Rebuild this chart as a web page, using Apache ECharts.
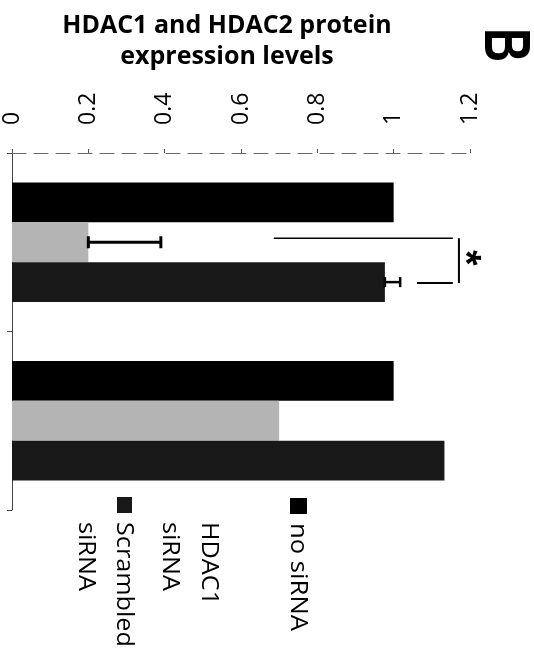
<!DOCTYPE html>
<html>
<head>
<meta charset="utf-8">
<script src="https://cdn.jsdelivr.net/npm/echarts@6/dist/echarts.min.js"></script>
<style>html,body{margin:0;padding:0;background:#fff;}#chart{width:534px;height:659px;}</style>
</head>
<body>
<div id="chart"></div>
<script>
const categories = ['HDAC1', 'HDAC2'];
const seriesNames = ['no siRNA', 'HDAC1 siRNA', 'Scrambled siRNA'];
const noSiRNA = [1.0, 1.0];
const hdac1SiRNA = [0.20, 0.70];
const scrambledSiRNA = [0.977, 1.133];
const hdac1Err = [0.19, 0];
const scrambledErr = [0.04, 0];
const tickLabels = ['0', '0.2', '0.4', '0.6', '0.8', '1', '1.2'];
const titleText = 'HDAC1 and HDAC2 protein\nexpression levels';
const panelLabel = 'B';

const colors = ['#000000', '#b4b4b4', '#181818'];
const GAP = 0.33;

const errData = [];
for (let i = 0; i < categories.length; i++) {
  if (hdac1Err[i] > 0) errData.push([i, hdac1SiRNA[i], hdac1Err[i], 1]);
  if (scrambledErr[i] > 0) errData.push([i, scrambledSiRNA[i], scrambledErr[i], 2]);
}

const chart = echarts.init(document.getElementById('chart'), null, {renderer: 'canvas'});

function barOffset(api, k) {
  const band = api.size([0, 1])[1];
  const bw = band * (1 - GAP) / 3;
  return (k - 1) * bw;
}

const option = {
  animation: false,
  backgroundColor: '#ffffff',
  title: {
    text: titleText,
    left: 222,
    top: 5,
    textAlign: 'center',
    textStyle: {fontFamily: 'Open Sans', fontWeight: 'bold', fontSize: 25, lineHeight: 31, color: '#000'}
  },
  grid: {left: 12, right: 64, top: 153, bottom: 149, containLabel: false},
  xAxis: {
    type: 'value', position: 'top', min: 0, max: 1.2, interval: 0.2,
    splitLine: {show: false},
    axisLine: {show: true, lineStyle: {color: '#666', width: 1, type: [14, 8]}},
    axisTick: {show: true, length: 4, lineStyle: {color: '#555'}},
    axisLabel: {
      rotate: -90, margin: 28, color: '#000', fontFamily: 'Open Sans', fontSize: 23,
      formatter: (v) => tickLabels[Math.round(v / 0.2)]
    }
  },
  yAxis: {
    type: 'category', data: categories, inverse: true,
    axisLine: {show: true, lineStyle: {color: '#444', width: 1}},
    axisTick: {show: true, length: 5, lineStyle: {color: '#444'}},
    axisLabel: {show: false}
  },
  series: [
    {name: seriesNames[0], type: 'bar', data: noSiRNA, barGap: '0%', barCategoryGap: '33%', itemStyle: {color: colors[0]}},
    {name: seriesNames[1], type: 'bar', data: hdac1SiRNA, barGap: '0%', barCategoryGap: '33%', itemStyle: {color: colors[1]}},
    {name: seriesNames[2], type: 'bar', data: scrambledSiRNA, barGap: '0%', barCategoryGap: '33%', itemStyle: {color: colors[2]}},
    {
      type: 'custom', name: 'err', data: errData, encode: {x: [1, 2], y: 0}, z: 5,
      renderItem: function (params, api) {
        const cat = api.value(0), v = api.value(1), e = api.value(2), k = api.value(3);
        const off = barOffset(api, k);
        const s = api.coord([v, cat]);
        const t = api.coord([v + e, cat]);
        const y = s[1] + off;
        const lw = k === 1 ? 3 : 2.5;
        const cap = k === 1 ? 6 : 5;
        return {type: 'group', children: [
          {type: 'line', shape: {x1: s[0], y1: y, x2: t[0], y2: y}, style: {stroke: '#000', lineWidth: lw}},
          {type: 'line', shape: {x1: t[0], y1: y - cap, x2: t[0], y2: y + cap}, style: {stroke: '#000', lineWidth: lw}},
          {type: 'line', shape: {x1: s[0], y1: y - cap, x2: s[0], y2: y + cap}, style: {stroke: '#000', lineWidth: lw}}
        ]};
      }
    },
    {
      type: 'custom', name: 'sig', data: [[0, 0]], encode: {x: 1, y: 0}, z: 6,
      renderItem: function (params, api) {
        const cat = api.value(0);
        const yTop = api.coord([0, cat])[1] + barOffset(api, 1) - 4;
        const yBot = api.coord([0, cat])[1] + barOffset(api, 2) + 1;
        const xa = api.coord([0.686, cat])[0];
        const xb = api.coord([1.155, cat])[0];
        const xc = api.coord([1.061, cat])[0];
        const xv = api.coord([1.171, cat])[0];
        const xs = api.coord([1.184, cat])[0];
        return {type: 'group', children: [
          {type: 'line', shape: {x1: xa, y1: yTop, x2: xb, y2: yTop}, style: {stroke: '#000', lineWidth: 1.5}},
          {type: 'line', shape: {x1: xc, y1: yBot, x2: xb, y2: yBot}, style: {stroke: '#000', lineWidth: 2}},
          {type: 'line', shape: {x1: xv, y1: yTop, x2: xv, y2: yBot}, style: {stroke: '#000', lineWidth: 2}},
          {type: 'text', x: xs, y: (yTop + yBot) / 2 - 3, rotation: -Math.PI / 2,
           style: {text: '*', font: 'bold 40px "Liberation Sans"', fill: '#000', align: 'center', verticalAlign: 'middle'}}
        ]};
      }
    }
  ],
  graphic: [
    {type: 'text', x: 503, y: 45, rotation: -Math.PI / 2, scaleX: 0.74,
     style: {text: panelLabel, font: 'bold 64px "Liberation Sans"', fill: '#000', align: 'center', verticalAlign: 'middle'}},
    {type: 'rect', shape: {x: 290, y: 498, width: 17, height: 16}, style: {fill: colors[0]}},
    {type: 'rect', shape: {x: 117, y: 497, width: 15, height: 16}, style: {fill: colors[2]}},
    {type: 'text', x: 298, y: 523, rotation: -Math.PI / 2, scaleX: 1.07,
     style: {text: 'no siRNA', font: '24px "Open Sans"', fill: '#000', align: 'left', verticalAlign: 'middle'}},
    {type: 'text', x: 209, y: 522, rotation: -Math.PI / 2, scaleX: 1.05,
     style: {text: 'HDAC1', font: '24px "Open Sans"', fill: '#000', align: 'left', verticalAlign: 'middle'}},
    {type: 'text', x: 170, y: 522, rotation: -Math.PI / 2, scaleX: 1.05,
     style: {text: 'siRNA', font: '24px "Open Sans"', fill: '#000', align: 'left', verticalAlign: 'middle'}},
    {type: 'text', x: 124, y: 522, rotation: -Math.PI / 2, scaleX: 1.05,
     style: {text: 'Scrambled', font: '24px "Open Sans"', fill: '#000', align: 'left', verticalAlign: 'middle'}},
    {type: 'text', x: 86, y: 522, rotation: -Math.PI / 2, scaleX: 1.05,
     style: {text: 'siRNA', font: '24px "Open Sans"', fill: '#000', align: 'left', verticalAlign: 'middle'}}
  ]
};
chart.setOption(option);
</script>
</body>
</html>
